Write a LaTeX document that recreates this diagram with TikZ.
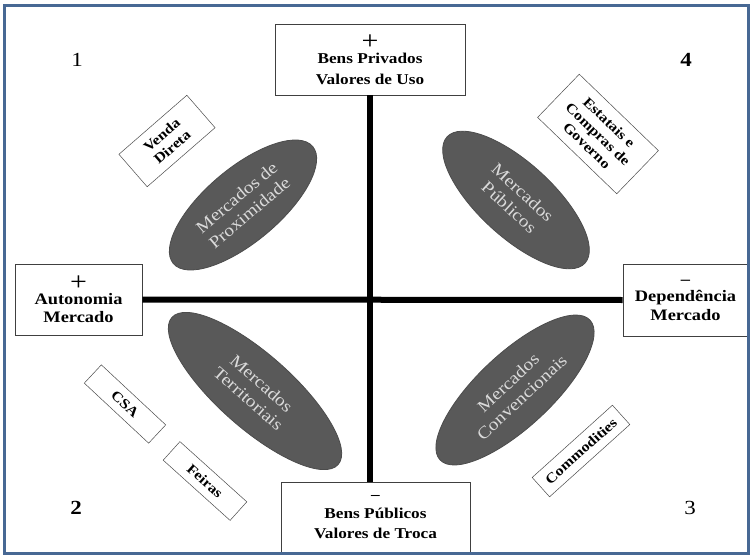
\documentclass[tikz,border=0pt]{standalone}
\usepackage{fontspec}
\setmainfont{Liberation Serif}[FakeStretch=1.15]
\usetikzlibrary{shapes.geometric}

\definecolor{frameblue}{RGB}{71,104,148}
\definecolor{ovalgray}{RGB}{89,89,89}
\definecolor{ovaltext}{RGB}{218,218,218}

\newcommand{\bigplus}{{\mdseries\fontsize{26}{26}\selectfont+}}

\begin{document}
\begin{tikzpicture}[x=1pt, y=-1pt,
	axisbox/.style={draw=black!75, line width=0.8pt, fill=white, align=center, inner sep=0pt,
		font=\bfseries\fontsize{15}{21}\selectfont},
	tagbox/.style={draw=black!70, line width=0.5pt, fill=white, align=center, inner sep=0pt,
		font=\bfseries\fontsize{14}{16}\selectfont},
	market/.style={ellipse, draw=black!70, line width=0.8pt, fill=ovalgray, text=ovaltext,
		align=center, inner sep=0pt, minimum height=74pt, font=\fontsize{17}{20}\selectfont},
	quad/.style={font=\fontsize{20}{24}\selectfont}]
	
	\useasboundingbox (0,0) rectangle (755,559);
	
	% eixos
	\node[axisbox, minimum width=190pt, minimum height=71pt] (privados) at (370,59.5)
		{\bigplus\\[-7pt]Bens Privados\\Valores de Uso};
	\node[axisbox, minimum width=189pt, minimum height=70pt] (publicos) at (375.5,517)
		{\textendash\\[-2.5pt]Bens Públicos\\[-1pt]Valores de Troca};
	\node[axisbox, minimum width=127pt, minimum height=71pt, font=\bfseries\fontsize{16}{18.5}\selectfont]
		(autonomia) at (78.5,299.5) {\bigplus\\[-5pt]Autonomia\\Mercado};
	\node[axisbox, minimum width=125pt, minimum height=72pt, font=\bfseries\fontsize{16}{18.5}\selectfont]
		(dependencia) at (685.5,300) {\textendash\\[-1pt]Dependência\\Mercado};
	
	\draw[line width=6pt] (privados.south) -- (privados.south |- publicos.north);
	\draw[line width=6pt] (autonomia.east) -- (dependencia.west);
	
	% quadrantes
	\node[quad] (q1) at (77,60) {1};
	\node[quad, font=\bfseries\fontsize{20}{24}\selectfont] (q4) at (686,60) {4};
	\node[quad, font=\bfseries\fontsize{20}{24}\selectfont] (q2) at (76,508) {2};
	\node[quad] (q3) at (690,508) {3};
	
	% mercados
	\node[market, minimum width=182pt, rotate=40] (proximidade) at (243,205) {Mercados de\\Proximidade};
	\node[market, minimum width=187pt, rotate=-42.5] (mpublicos) at (516,200) {Mercados\\Públicos};
	\node[market, minimum width=222pt, rotate=-41.5] (territoriais) at (255,391) {Mercados\\Territoriais};
	\node[market, minimum width=205pt, rotate=43] (convencionais) at (515,390) {Mercados\\Convencionais};
	
	% exemplos
	\node[tagbox, minimum width=90pt, minimum height=43pt, rotate=41] (venda) at (167,141) {Venda\\Direta};
	\node[tagbox, minimum width=110pt, minimum height=60pt, rotate=-44] (estatais) at (598,134) {Estatais e\\Compras de\\Governo};
	\node[tagbox, minimum width=88pt, minimum height=25pt, rotate=-43] (csa) at (125,404) {CSA};
	\node[tagbox, minimum width=90pt, minimum height=25pt, rotate=-42] (feiras) at (205,481) {Feiras};
	\node[tagbox, minimum width=108pt, minimum height=26pt, rotate=42] (commodities) at (581,451) {Commodities};
	
	\draw[frameblue, line width=3pt] (4.5,6) rectangle (748.5,553.5);
	
\end{tikzpicture}
\end{document}
